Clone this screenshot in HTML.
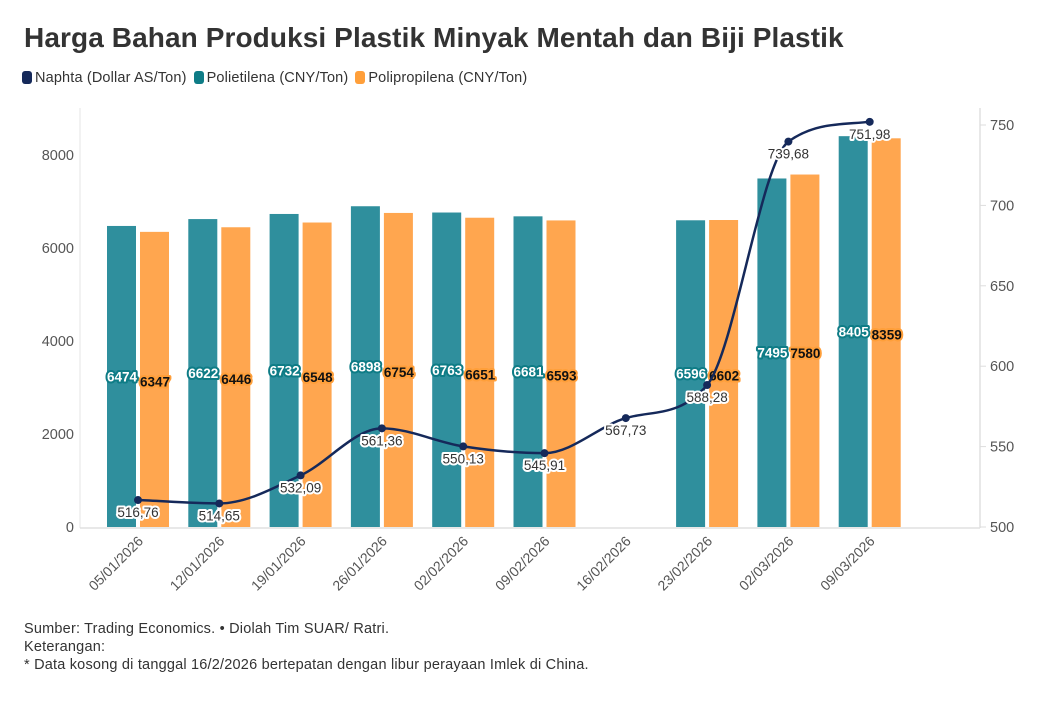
<!DOCTYPE html>
<html><head><meta charset="utf-8">
<style>
body{margin:0;background:#fff;width:1039px;height:714px;overflow:hidden;font-family:"Liberation Sans",sans-serif}
.title{position:absolute;left:24px;top:22px;font-size:28px;font-weight:bold;color:#333;letter-spacing:0.1px}
.legend{position:absolute;left:22px;top:70px;font-size:14.5px;color:#333;display:flex;gap:7px;letter-spacing:0.15px}
.legend span.sw{display:inline-block;width:10px;height:13px;border-radius:3px;vertical-align:-2px;margin-right:3px}
.foot{position:absolute;left:24px;top:620px;font-size:14.5px;color:#333;line-height:18px;letter-spacing:0.2px}
</style></head><body>
<div class="title">Harga Bahan Produksi Plastik Minyak Mentah dan Biji Plastik</div>
<div class="legend">
<div><span class="sw" style="background:#15295a"></span>Naphta (Dollar AS/Ton)</div>
<div><span class="sw" style="background:#0e7c86"></span>Polietilena (CNY/Ton)</div>
<div><span class="sw" style="background:#ff9f3a"></span>Polipropilena (CNY/Ton)</div>
</div>
<svg id="chart" width="1039" height="714" style="position:absolute;left:0;top:0"></svg>
<div class="foot">Sumber: Trading Economics. • Diolah Tim SUAR/ Ratri.<br>Keterangan:<br>* Data kosong di tanggal 16/2/2026 bertepatan dengan libur perayaan Imlek di China.</div>
<script>
const categories=["05/01/2026","12/01/2026","19/01/2026","26/01/2026","02/02/2026","09/02/2026","16/02/2026","23/02/2026","02/03/2026","09/03/2026"];
const pe=[6474,6622,6732,6898,6763,6681,null,6596,7495,8405];
const pp=[6347,6446,6548,6754,6651,6593,null,6602,7580,8359];
const naphta=[516.76,514.65,532.09,561.36,550.13,545.91,567.73,588.28,739.68,751.98];
const leftTicks=[0,2000,4000,6000,8000];
const rightTicks=[500,550,600,650,700,750];
const svg=document.getElementById('chart');const NS='http://www.w3.org/2000/svg';
function el(t,a,p){const e=document.createElementNS(NS,t);for(const k in a)e.setAttribute(k,a[k]);(p||svg).appendChild(e);return e;}
const x=i=>138+i*81.3;
const yL=v=>527-v*(372/8000);
const yR=v=>527-(v-500)*(402/250);
const fmt=v=>v.toFixed(2).replace('.',',');
let a=el('line',{x1:80,y1:108,x2:80,y2:528,stroke:'#e6e6e6','stroke-width':1});

a=el('line',{x1:80,y1:528,x2:980,y2:528,stroke:'#e0e0e0','stroke-width':1.5});

a=el('line',{x1:980,y1:108,x2:980,y2:528,stroke:'#e0e0e0','stroke-width':1.5});

leftTicks.forEach(v=>{const t=el('text',{x:74,y:yL(v)+5,'text-anchor':'end','font-size':14.5,fill:'#555'});t.textContent=v;
});
rightTicks.forEach(v=>{const l=el('line',{x1:980,x2:986,y1:yR(v),y2:yR(v),stroke:'#ddd'});

const t=el('text',{x:990,y:yR(v)+5,'font-size':14.5,fill:'#555'});t.textContent=v;
});
categories.forEach((c,i)=>{const t=el('text',{x:0,y:0,'text-anchor':'end','font-size':14,fill:'#555',transform:`translate(${x(i)+6},${542}) rotate(-45)`});t.textContent=c;
});
const bw=29;
categories.forEach((c,i)=>{
 if(pe[i]!=null){const r=el('rect',{x:x(i)-31,y:yL(pe[i]),width:bw,height:527-yL(pe[i]),fill:'#2f8f9d'});
 }
 if(pp[i]!=null){const r=el('rect',{x:x(i)+2,y:yL(pp[i]),width:bw,height:527-yL(pp[i]),fill:'#ffa64f'});
 }
});
categories.forEach((c,i)=>{
 if(pe[i]!=null){const t=el('text',{x:x(i)-16,y:(527+yL(pe[i]))/2+5,'text-anchor':'middle','font-size':13.5,'font-weight':'bold',fill:'#fff',stroke:'#0e7c86','stroke-width':4,'paint-order':'stroke','stroke-linejoin':'round'});t.textContent=pe[i];
 }
 if(pp[i]!=null){const t=el('text',{x:x(i)+17,y:(527+yL(pp[i]))/2+7,'text-anchor':'middle','font-size':13.5,'font-weight':'bold',fill:'#111',stroke:'#ff9f3a','stroke-width':4,'paint-order':'stroke','stroke-linejoin':'round'});t.textContent=pp[i];
 }
});
const P=naphta.map((v,i)=>[x(i),yR(v)]);
const n=P.length,dx=[],sl=[],m=[];
for(let i=0;i<n-1;i++){dx[i]=P[i+1][0]-P[i][0];sl[i]=(P[i+1][1]-P[i][1])/dx[i];}
m[0]=sl[0];m[n-1]=sl[n-2];
for(let i=1;i<n-1;i++){m[i]=(sl[i-1]*sl[i]<=0)?0:(sl[i-1]+sl[i])/2;}
for(let i=0;i<n-1;i++){if(sl[i]===0){m[i]=m[i+1]=0;continue;}const al=m[i]/sl[i],be=m[i+1]/sl[i],s=al*al+be*be;if(s>9){const t=3/Math.sqrt(s);m[i]=t*al*sl[i];m[i+1]=t*be*sl[i];}}
let d=`M${P[0][0]},${P[0][1]}`;
for(let i=0;i<n-1;i++){const h=dx[i]/3;d+=` C${P[i][0]+h},${P[i][1]+m[i]*h} ${P[i+1][0]-h},${P[i+1][1]-m[i+1]*h} ${P[i+1][0]},${P[i+1][1]}`;}
const ln=el('path',{d:d,fill:'none',stroke:'#15295a','stroke-width':2.5});

P.forEach((p,i)=>{const c=el('circle',{cx:p[0],cy:p[1],r:4,fill:'#15295a'});

const t=el('text',{x:p[0],y:p[1]+17,'text-anchor':'middle','font-size':13.5,fill:'#333',stroke:'#fff','stroke-width':4,'paint-order':'stroke','stroke-linejoin':'round'});t.textContent=fmt(naphta[i]);
});
</script>
</body></html>
